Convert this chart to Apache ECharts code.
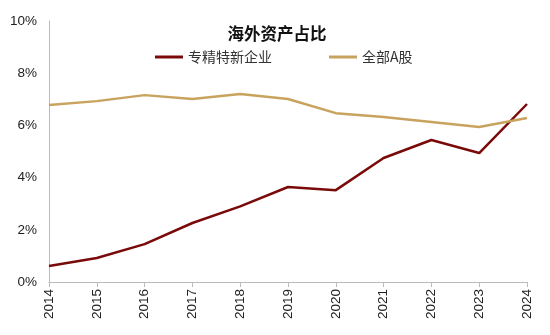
<!DOCTYPE html>
<html><head><meta charset="utf-8">
<script src="https://cdn.jsdelivr.net/npm/echarts@6/dist/echarts.min.js"></script>
<style>html,body{margin:0;padding:0;background:#fff}#c{width:550px;height:335px}</style>
</head><body><div id="c"></div>
<script>
const years = ['2014','2015','2016','2017','2018','2019','2020','2021','2022','2023','2024'];
const zjtx = [0.61,0.92,1.45,2.26,2.90,3.64,3.52,4.75,5.44,4.94,6.82];
const allA = [6.78,6.93,7.16,7.01,7.20,7.01,6.47,6.32,6.13,5.94,6.28];
const yTicks = [0,2,4,6,8,10];
const chart = echarts.init(document.getElementById('c'));
const legText = {fontSize:14,color:'#333',fontFamily:'Noto Sans CJK SC'};
chart.setOption({
  animation:false,
  title:{text:'海外资产占比',left:272,top:20,textAlign:'center',textStyle:{fontSize:16.5,fontWeight:'bold',color:'#111',fontFamily:'Noto Sans CJK SC'}},
  legend:[
    {top:45,left:150,itemWidth:28,itemHeight:3,icon:'rect',textStyle:legText,data:['专精特新企业']},
    {top:45,left:324,itemWidth:28,itemHeight:3,icon:'rect',textStyle:legText,data:['全部A股']}
  ],
  grid:{left:49,right:23,top:21,bottom:53},
  xAxis:{type:'category',data:years,boundaryGap:false,
    axisLine:{lineStyle:{color:'#bbb'}},axisTick:{show:true,lineStyle:{color:'#bbb'},length:5},
    axisLabel:{rotate:90,fontSize:13.5,color:'#222',fontFamily:'Liberation Sans',margin:7}},
  yAxis:{type:'value',min:yTicks[0],max:yTicks[yTicks.length-1],interval:2,
    axisLine:{show:true,lineStyle:{color:'#bbb'}},axisTick:{show:false},splitLine:{show:false},
    axisLabel:{formatter:v=>v+'%',fontSize:13.5,color:'#222',fontFamily:'Liberation Sans',margin:12}},
  series:[
    {name:'专精特新企业',type:'line',data:zjtx,symbol:'none',lineStyle:{width:2.5,color:'#7a0a0a'},itemStyle:{color:'#7a0a0a'}},
    {name:'全部A股',type:'line',data:allA,symbol:'none',lineStyle:{width:2.5,color:'#c8a35e'},itemStyle:{color:'#c8a35e'}}
  ]
});
</script></body></html>
